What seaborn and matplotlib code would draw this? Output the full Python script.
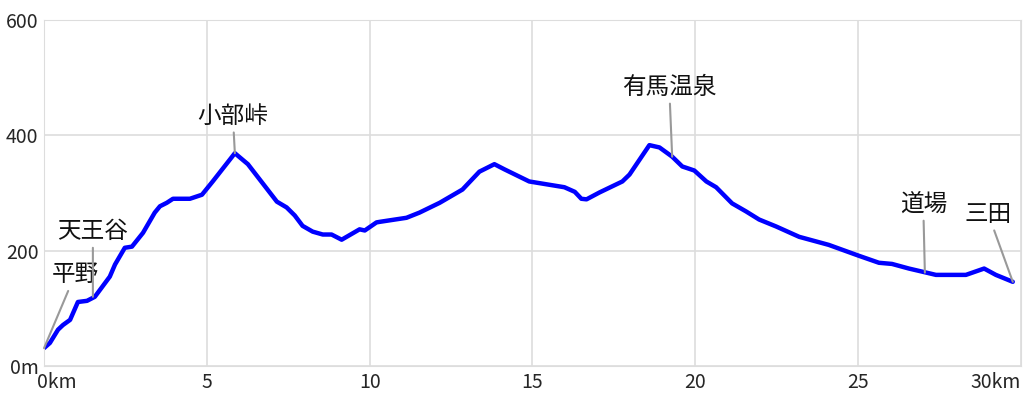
import numpy as np
import pandas as pd
import seaborn as sns
import matplotlib
matplotlib.use('Agg')
import matplotlib.pyplot as plt
from matplotlib.transforms import ScaledTranslation

# elevation profile (km, m)
dist_km = [0.0, 0.18, 0.43, 0.58, 0.8, 1.04, 1.32, 1.56, 2.02, 2.18, 2.48, 2.7,
           3.04, 3.4, 3.56, 3.77, 3.96, 4.48, 4.85, 5.18, 5.86, 6.26, 7.15, 7.45,
           7.7, 7.94, 8.25, 8.56, 8.83, 9.14, 9.69, 9.85, 10.21, 10.31, 11.13,
           11.53, 12.15, 12.85, 13.37, 13.83, 14.14, 14.9, 15.98, 16.3, 16.5,
           16.66, 17.06, 17.76, 17.98, 18.59, 18.9, 19.29, 19.6, 19.97, 20.34,
           20.64, 21.13, 21.56, 21.96, 22.48, 23.19, 24.1, 25.03, 25.64, 26.04,
           26.56, 27.09, 27.39, 28.31, 28.87, 29.23, 29.75]
elev_m = [31, 40, 63, 71, 80, 111, 113, 120, 155, 176, 205, 207,
          231, 266, 277, 283, 290, 290, 297, 320, 369, 350, 285, 275,
          261, 243, 233, 228, 228, 219, 237, 235, 249, 250, 257,
          266, 283, 306, 337, 350, 341, 320, 310, 302, 290,
          289, 301, 320, 332, 383, 379, 363, 346, 339, 320,
          310, 282, 268, 254, 242, 224, 210, 191, 179, 177,
          169, 162, 158, 158, 169, 158, 146]

# place labels: name, point km, point m, text km, text m
place_names = ['平野', '天王谷', '小部峠', '有馬温泉', '道場', '三田']
place_km = [0.0, 1.5, 5.86, 19.29, 27.05, 29.75]
place_m = [31, 120, 369, 363, 162, 146]
label_km = [0.95, 1.5, 5.8, 19.2, 27.0, 29.0]
label_m = [158, 233, 433, 483, 280, 263]

x_ticks = [0, 5, 10, 15, 20, 25, 30]
x_labels = ['0km', '5', '10', '15', '20', '25', '30km']
y_ticks = [0, 200, 400, 600]
y_labels = ['0m', '200', '400', '600']

sns.set_style('whitegrid')
plt.rcParams['font.family'] = ['Noto Sans CJK JP', 'DejaVu Sans']

df = pd.DataFrame({'km': dist_km, 'm': elev_m})

fig, ax = plt.subplots(figsize=(10.24, 4.0), dpi=100)
fig.subplots_adjust(left=0.043, right=0.997, bottom=0.085, top=0.95)

sns.lineplot(data=df, x='km', y='m', color='#0000ff', linewidth=3.2, ax=ax)

for name, px, py, tx, ty in zip(place_names, place_km, place_m, label_km, label_m):
    ax.annotate(name, xy=(px, py), xytext=(tx, ty), textcoords='data',
                ha='center', va='center', fontsize=17, color='#111111',
                arrowprops=dict(arrowstyle='-', color='#999999', lw=1.5,
                                shrinkA=1, shrinkB=0))

ax.set_xlim(0, 30)
ax.set_ylim(0, 600)
ax.set_xticks(x_ticks)
ax.set_xticklabels(x_labels, fontsize=14)
ax.set_yticks(y_ticks)
ax.set_yticklabels(y_labels, fontsize=14)
ax.tick_params(length=0, pad=4)
ax.set_xlabel('')
ax.set_ylabel('')
ax.grid(True, color='#dddddd', linewidth=1.2)
for s in ax.spines.values():
    s.set_color('#dddddd')

xl = ax.get_xticklabels()
xl[0].set_ha('left')
xl[0].set_transform(xl[0].get_transform() + ScaledTranslation(-0.07, 0, fig.dpi_scale_trans))
xl[-1].set_ha('right')

fig.savefig('out.png', dpi=100)
